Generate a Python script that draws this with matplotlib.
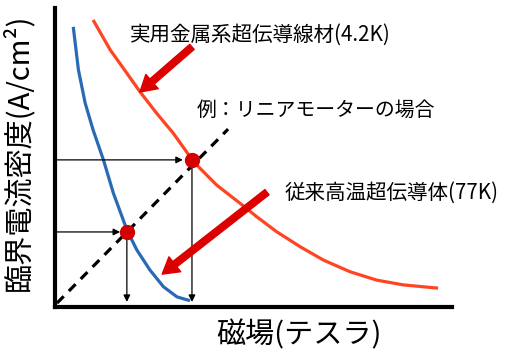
import matplotlib
matplotlib.use('Agg')
import matplotlib.pyplot as plt

plt.rcParams['font.family'] = ['Noto Sans CJK JP', 'DejaVu Sans']

# curve points (field, current density) in 0..100 units
blue_x = [4.6, 5.9, 7.6, 9.6, 12.2, 14.7, 18.1, 20.6, 23.9, 27.3, 30.7, 34.0]
blue_y = [93.7, 79.3, 68.2, 59.2, 49.2, 38.1, 25.8, 19.1, 12.4, 6.8, 3.4, 2.1]

orange_x = [9.6, 13.9, 18.1, 21.4, 25.6, 29.8, 34.0, 35.7, 40.7, 46.6, 50.8,
            55.8, 61.7, 67.6, 74.3, 81.0, 87.7, 96.5]
orange_y = [96.0, 86.0, 78.2, 72.0, 64.8, 58.1, 50.3, 47.5, 40.8, 34.7, 30.2,
            25.2, 20.2, 15.7, 11.8, 9.0, 7.4, 6.3]

# linear motor load line
load_x = [0.5, 43.6]
load_y = [1.3, 59.5]

# operating points
op_x = [18.1, 34.5]
op_y = [25.1, 49.2]

label_metal = '実用金属系超伝導線材(4.2K)'
label_motor = '例：リニアモーターの場合'
label_htc = '従来高温超伝導体(77K)'
xlabel = '磁場(テスラ)'
ylabel = '臨界電流密度(A/cm²)'

fig = plt.figure(figsize=(5.05, 3.57), dpi=100)
ax = fig.add_axes([55/505, 50/357, 397/505, 299/357])
ax.set_xlim(0, 100)
ax.set_ylim(0, 100)

for s in ['top', 'right']:
    ax.spines[s].set_visible(False)
for s in ['left', 'bottom']:
    ax.spines[s].set_linewidth(3)
ax.set_xticks([])
ax.set_yticks([])

ax.plot(blue_x, blue_y, color='#2a6ab5', lw=2.3, solid_capstyle='butt',
        solid_joinstyle='round', clip_on=False)
ax.plot(orange_x, orange_y, color='#ff4422', lw=2.3, solid_capstyle='butt',
        solid_joinstyle='round', clip_on=False)
ax.plot(load_x, load_y, color='black', lw=2.3, linestyle=(0, (3, 2.3)), clip_on=False)

# thin black guide arrows
thin = dict(arrowstyle='-|>', color='black', lw=0.9, mutation_scale=10, shrinkA=0, shrinkB=0)
ax.annotate('', xy=(op_x[0] - 1.7, op_y[0]), xytext=(0, op_y[0]), arrowprops=thin)
ax.annotate('', xy=(op_x[1] - 2.3, op_y[1]), xytext=(0, op_y[1]), arrowprops=thin)
for xx, yy in zip(op_x, op_y):
    ax.annotate('', xy=(xx, 1.7), xytext=(xx, yy), arrowprops=thin, annotation_clip=False)

ax.plot(op_x, op_y, 'o', color='#d40000', markersize=10, zorder=5, clip_on=False)

# red pointer arrows
red = dict(arrowstyle='simple,head_length=0.72,head_width=0.85,tail_width=0.3',
           color='#dd0000', mutation_scale=16, shrinkA=0, shrinkB=0)
ax.annotate('', xy=(21.4, 71.9), xytext=(34.5, 87.0), arrowprops=red)
ax.annotate('', xy=(27.0, 11.0), xytext=(53.4, 38.4), arrowprops=red)

ax.text(18.9, 91.0, label_metal, fontsize=14.8, va='center', ha='left')
ax.text(35.8, 65.9, label_motor, fontsize=14.3, va='center', ha='left')
ax.text(57.9, 38.1, label_htc, fontsize=14.8, va='center', ha='left')

fig.text(299/505, 1 - 335/357, xlabel, fontsize=21, ha='center', va='center')
fig.text(18/505, 1 - 152/357, ylabel, fontsize=21, ha='center', va='center', rotation=90)

fig.savefig('out.png', dpi=100)
